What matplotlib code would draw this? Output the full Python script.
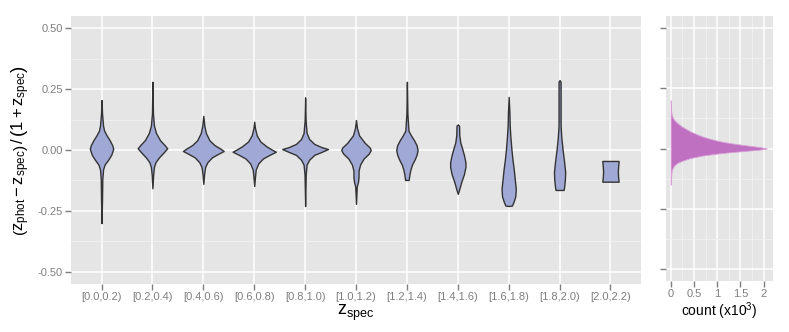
import matplotlib
matplotlib.use("Agg")
import matplotlib.pyplot as plt
import numpy as np

plt.rcParams['font.family'] = ['Liberation Sans', 'DejaVu Sans']
plt.rcParams['mathtext.fontset'] = 'custom'
plt.rcParams['mathtext.rm'] = 'Liberation Sans'
plt.rcParams['mathtext.it'] = 'Liberation Sans'
plt.rcParams['mathtext.sf'] = 'Liberation Sans'

# bins of z_spec
cats = ["[0.0,0.2)", "[0.2,0.4)", "[0.4,0.6)", "[0.6,0.8)", "[0.8,1.0)", "[1.0,1.2)",
        "[1.2,1.4)", "[1.4,1.6)", "[1.6,1.8)", "[1.8,2.0)", "[2.0,2.2)"]

# violin outlines: dz level and half width (in category units)
v1_y = [0.205, 0.15, 0.10, 0.08, 0.06, 0.04, 0.02, 0.005, -0.02, -0.04, -0.06, -0.08, -0.12, -0.20, -0.30]
v1_w = [0.0, 0.01, 0.03, 0.05, 0.10, 0.16, 0.21, 0.23, 0.19, 0.13, 0.06, 0.03, 0.015, 0.01, 0.0]
v2_y = [0.28, 0.15, 0.10, 0.07, 0.04, 0.02, 0.007, -0.01, -0.03, -0.05, -0.07, -0.10, -0.157]
v2_w = [0.0, 0.01, 0.03, 0.07, 0.15, 0.24, 0.29, 0.22, 0.13, 0.06, 0.03, 0.015, 0.0]
v3_y = [0.14, 0.10, 0.07, 0.04, 0.02, 0.005, -0.004, -0.015, -0.03, -0.05, -0.07, -0.10, -0.139]
v3_w = [0.0, 0.02, 0.05, 0.12, 0.22, 0.34, 0.40, 0.30, 0.17, 0.08, 0.035, 0.015, 0.0]
v4_y = [0.116, 0.09, 0.06, 0.035, 0.015, 0.0, -0.007, -0.02, -0.035, -0.055, -0.08, -0.11, -0.148]
v4_w = [0.0, 0.015, 0.05, 0.12, 0.24, 0.36, 0.425, 0.30, 0.17, 0.08, 0.03, 0.015, 0.0]
v5_y = [0.216, 0.12, 0.07, 0.045, 0.025, 0.012, 0.004, -0.008, -0.02, -0.04, -0.06, -0.10, -0.23]
v5_w = [0.0, 0.01, 0.03, 0.08, 0.18, 0.32, 0.45, 0.32, 0.18, 0.08, 0.03, 0.012, 0.0]
v6_y = [0.123, 0.09, 0.06, 0.03, 0.01, 0.0, -0.015, -0.035, -0.06, -0.085, -0.11, -0.13, -0.15, -0.221]
v6_w = [0.0, 0.02, 0.06, 0.17, 0.27, 0.29, 0.25, 0.15, 0.08, 0.05, 0.05, 0.04, 0.015, 0.0]
v7_y = [0.28, 0.15, 0.08, 0.06, 0.04, 0.02, 0.0, -0.02, -0.04, -0.06, -0.08, -0.10, -0.115, -0.123, -0.123]
v7_w = [0.0, 0.01, 0.03, 0.08, 0.14, 0.19, 0.21, 0.19, 0.15, 0.10, 0.07, 0.05, 0.04, 0.035, 0.0]
v8_y = [0.105, 0.10, 0.06, 0.03, 0.01, -0.02, -0.05, -0.07, -0.10, -0.13, -0.16, -0.18]
v8_w = [0.0, 0.025, 0.03, 0.05, 0.08, 0.12, 0.15, 0.15, 0.12, 0.07, 0.03, 0.0]
v9_y = [0.218, 0.15, 0.10, 0.05, 0.0, -0.04, -0.08, -0.12, -0.16, -0.19, -0.21, -0.228, -0.23]
v9_w = [0.0, 0.015, 0.02, 0.035, 0.055, 0.075, 0.10, 0.12, 0.14, 0.13, 0.10, 0.065, 0.0]
v10_y = [0.287, 0.28, 0.20, 0.10, 0.05, 0.0, -0.05, -0.09, -0.12, -0.15, -0.164, -0.164]
v10_w = [0.0, 0.02, 0.02, 0.02, 0.035, 0.06, 0.09, 0.11, 0.105, 0.09, 0.08, 0.0]
v11_y = [-0.045, -0.045, -0.07, -0.088, -0.11, -0.13, -0.13]
v11_w = [0.0, 0.16, 0.15, 0.145, 0.15, 0.16, 0.0]

violins = [(v1_y, v1_w), (v2_y, v2_w), (v3_y, v3_w), (v4_y, v4_w), (v5_y, v5_w), (v6_y, v6_w),
           (v7_y, v7_w), (v8_y, v8_w), (v9_y, v9_w), (v10_y, v10_w), (v11_y, v11_w)]

# histogram of all dz, counts in thousands
hist_y = [0.20, 0.18, 0.16, 0.15, 0.14, 0.13, 0.12, 0.11, 0.10, 0.09, 0.08, 0.07, 0.06, 0.05,
          0.04, 0.035, 0.03, 0.025, 0.02, 0.015, 0.01, 0.005, 0.0, -0.005, -0.01, -0.015,
          -0.02, -0.025, -0.03, -0.04, -0.05, -0.06, -0.07, -0.08, -0.09, -0.10, -0.12, -0.15]
hist_n = [0.004, 0.006, 0.01, 0.015, 0.025, 0.04, 0.07, 0.12, 0.18, 0.25, 0.34, 0.43, 0.55, 0.68,
          0.85, 0.95, 1.06, 1.20, 1.36, 1.55, 1.75, 1.95, 2.07, 1.90, 1.60, 1.30,
          1.05, 0.85, 0.66, 0.42, 0.26, 0.14, 0.08, 0.045, 0.025, 0.018, 0.01, 0.004]

bg = "#E5E5E5"
txt_grey = "#7F7F7F"

fig = plt.figure(figsize=(7.89, 3.32), dpi=100)
ax1 = fig.add_axes([71/789, 48/332, 570/789, 268/332])
ax2 = fig.add_axes([666/789, 51/332, 107/789, 265/332])

for ax in (ax1, ax2):
    ax.set_facecolor(bg)
    for s in ax.spines.values():
        s.set_visible(False)
    ax.set_axisbelow(True)
    ax.grid(True, which='major', color='white', lw=1.1)
    ax.grid(True, which='minor', color='#F2F2F2', lw=0.6)
    ax.tick_params(which='major', length=4, width=1, color=txt_grey, labelcolor=txt_grey, labelsize=8, pad=2)
    ax.tick_params(which='minor', length=0)
    ax.set_ylim(-0.55, 0.55)
    ax.set_yticks([-0.5, -0.25, 0, 0.25, 0.5])
    ax.set_yticks([-0.375, -0.125, 0.125, 0.375], minor=True)

# violins
for i, (vy, vw) in enumerate(violins):
    vy = np.array(vy)
    vw = np.array(vw)
    ax1.fill_betweenx(vy, i - vw, i + vw, facecolor="#A0A8D5", edgecolor="#333333", lw=1.0, zorder=3)

ax1.set_xlim(-0.6, len(cats) - 0.4)
ax1.set_xticks(range(len(cats)))
ax1.set_xticklabels(cats)
ax1.set_yticklabels(["-0.50", "-0.25", "0.00", "0.25", "0.50"])
ax1.xaxis.grid(False, which='minor')
ax1.set_xlabel(r"$\mathrm{z_{spec}}$", fontsize=13, labelpad=0)
ax1.set_ylabel(r"$\left(\mathrm{z_{phot}} - \mathrm{z_{spec}}\right)\,/\,\left(1 + \mathrm{z_{spec}}\right)$",
               fontsize=12, labelpad=4)

# histogram
ax2.fill_betweenx(hist_y, 0, hist_n, facecolor="#C070C0", edgecolor="#D9A0D9", lw=0.6, zorder=3)
ax2.set_xlim(-0.1, 2.2)
ax2.set_xticks([0, 0.5, 1, 1.5, 2])
ax2.set_xticklabels(["0", "0.5", "1", "1.5", "2"])
ax2.set_xticks([0.25, 0.75, 1.25, 1.75], minor=True)
ax2.tick_params(labelleft=False)
ax2.set_xlabel(r"count (x10$^3$)", fontsize=10, labelpad=1)

fig.savefig("out.png", dpi=100)
